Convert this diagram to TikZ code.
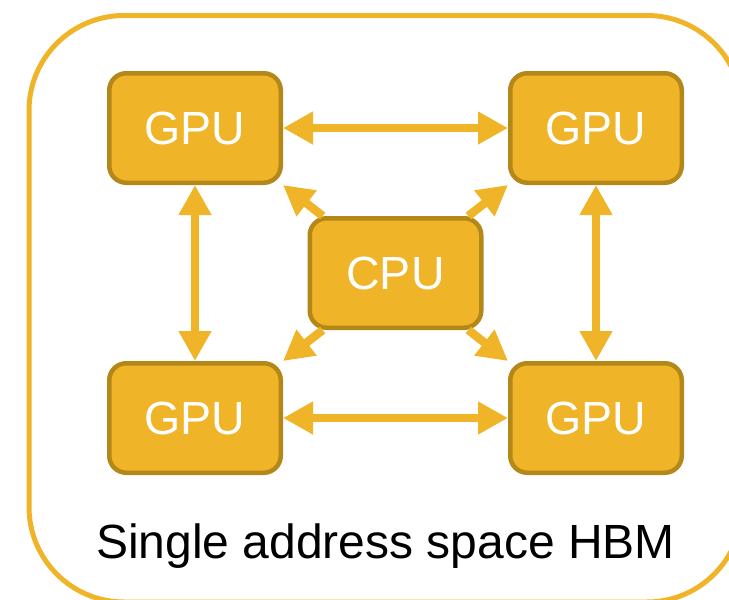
\documentclass[tikz,border=0pt]{standalone}
\usepackage{fontspec}
\setmainfont{Liberation Sans}
\usepackage{tikz}
\usetikzlibrary{positioning, arrows.meta, calc}
\definecolor{hbmgold}{HTML}{F0B428}
\definecolor{hbmdark}{HTML}{B38819}
\tikzset{
    x=1pt, y=-1pt, % picture is laid out in pixels, y going down
    >={Triangle[length=30pt, width=31pt]}, % big filled heads on every link
    unit/.style={draw=hbmdark, fill=hbmgold, line width=4.5pt, rounded corners=17pt,
        minimum width=171.5pt, minimum height=109.5pt, text=white,
        font=\fontsize{46.5}{50}\selectfont}, % sets the properties for each GPU/CPU box
    link/.style={draw=hbmgold, line width=8.5pt}, % the connectors
    }

\begin{document}
\begin{tikzpicture}
\useasboundingbox (0,0) rectangle (729,600);
\clip (0,0) rectangle (729,600);
\draw[hbmgold, line width=5pt, rounded corners=95pt] (29,15.5) rectangle (742,602);

\node[unit] (g1) at (195,128) {GPU};
\node[unit, on grid, right=401pt of g1] (g2) {GPU};
\node[unit, on grid, below=290pt of g1] (g3) {GPU};
\node[unit, on grid, right=401pt of g3] (g4) {GPU};
\node[unit] (cpu) at ($(g1)!0.5!(g4)$) {CPU};
\node[anchor=base, font=\fontsize{48}{52}\selectfont] (hbm) at (385.5,558) {Single address space HBM};

\draw[link, <->] (g1) -- (g2);
\draw[link, <->] (g3) -- (g4);
\draw[link, <->] (g1) -- (g3);
\draw[link, <->] (g2) -- (g4);
\draw[link, ->] (cpu) -- (g1.south east);
\draw[link, ->] (cpu) -- (g2.south west);
\draw[link, ->] (cpu) -- (g3.north east);
\draw[link, ->] (cpu) -- (g4.north west);
\end{tikzpicture}
\end{document}
